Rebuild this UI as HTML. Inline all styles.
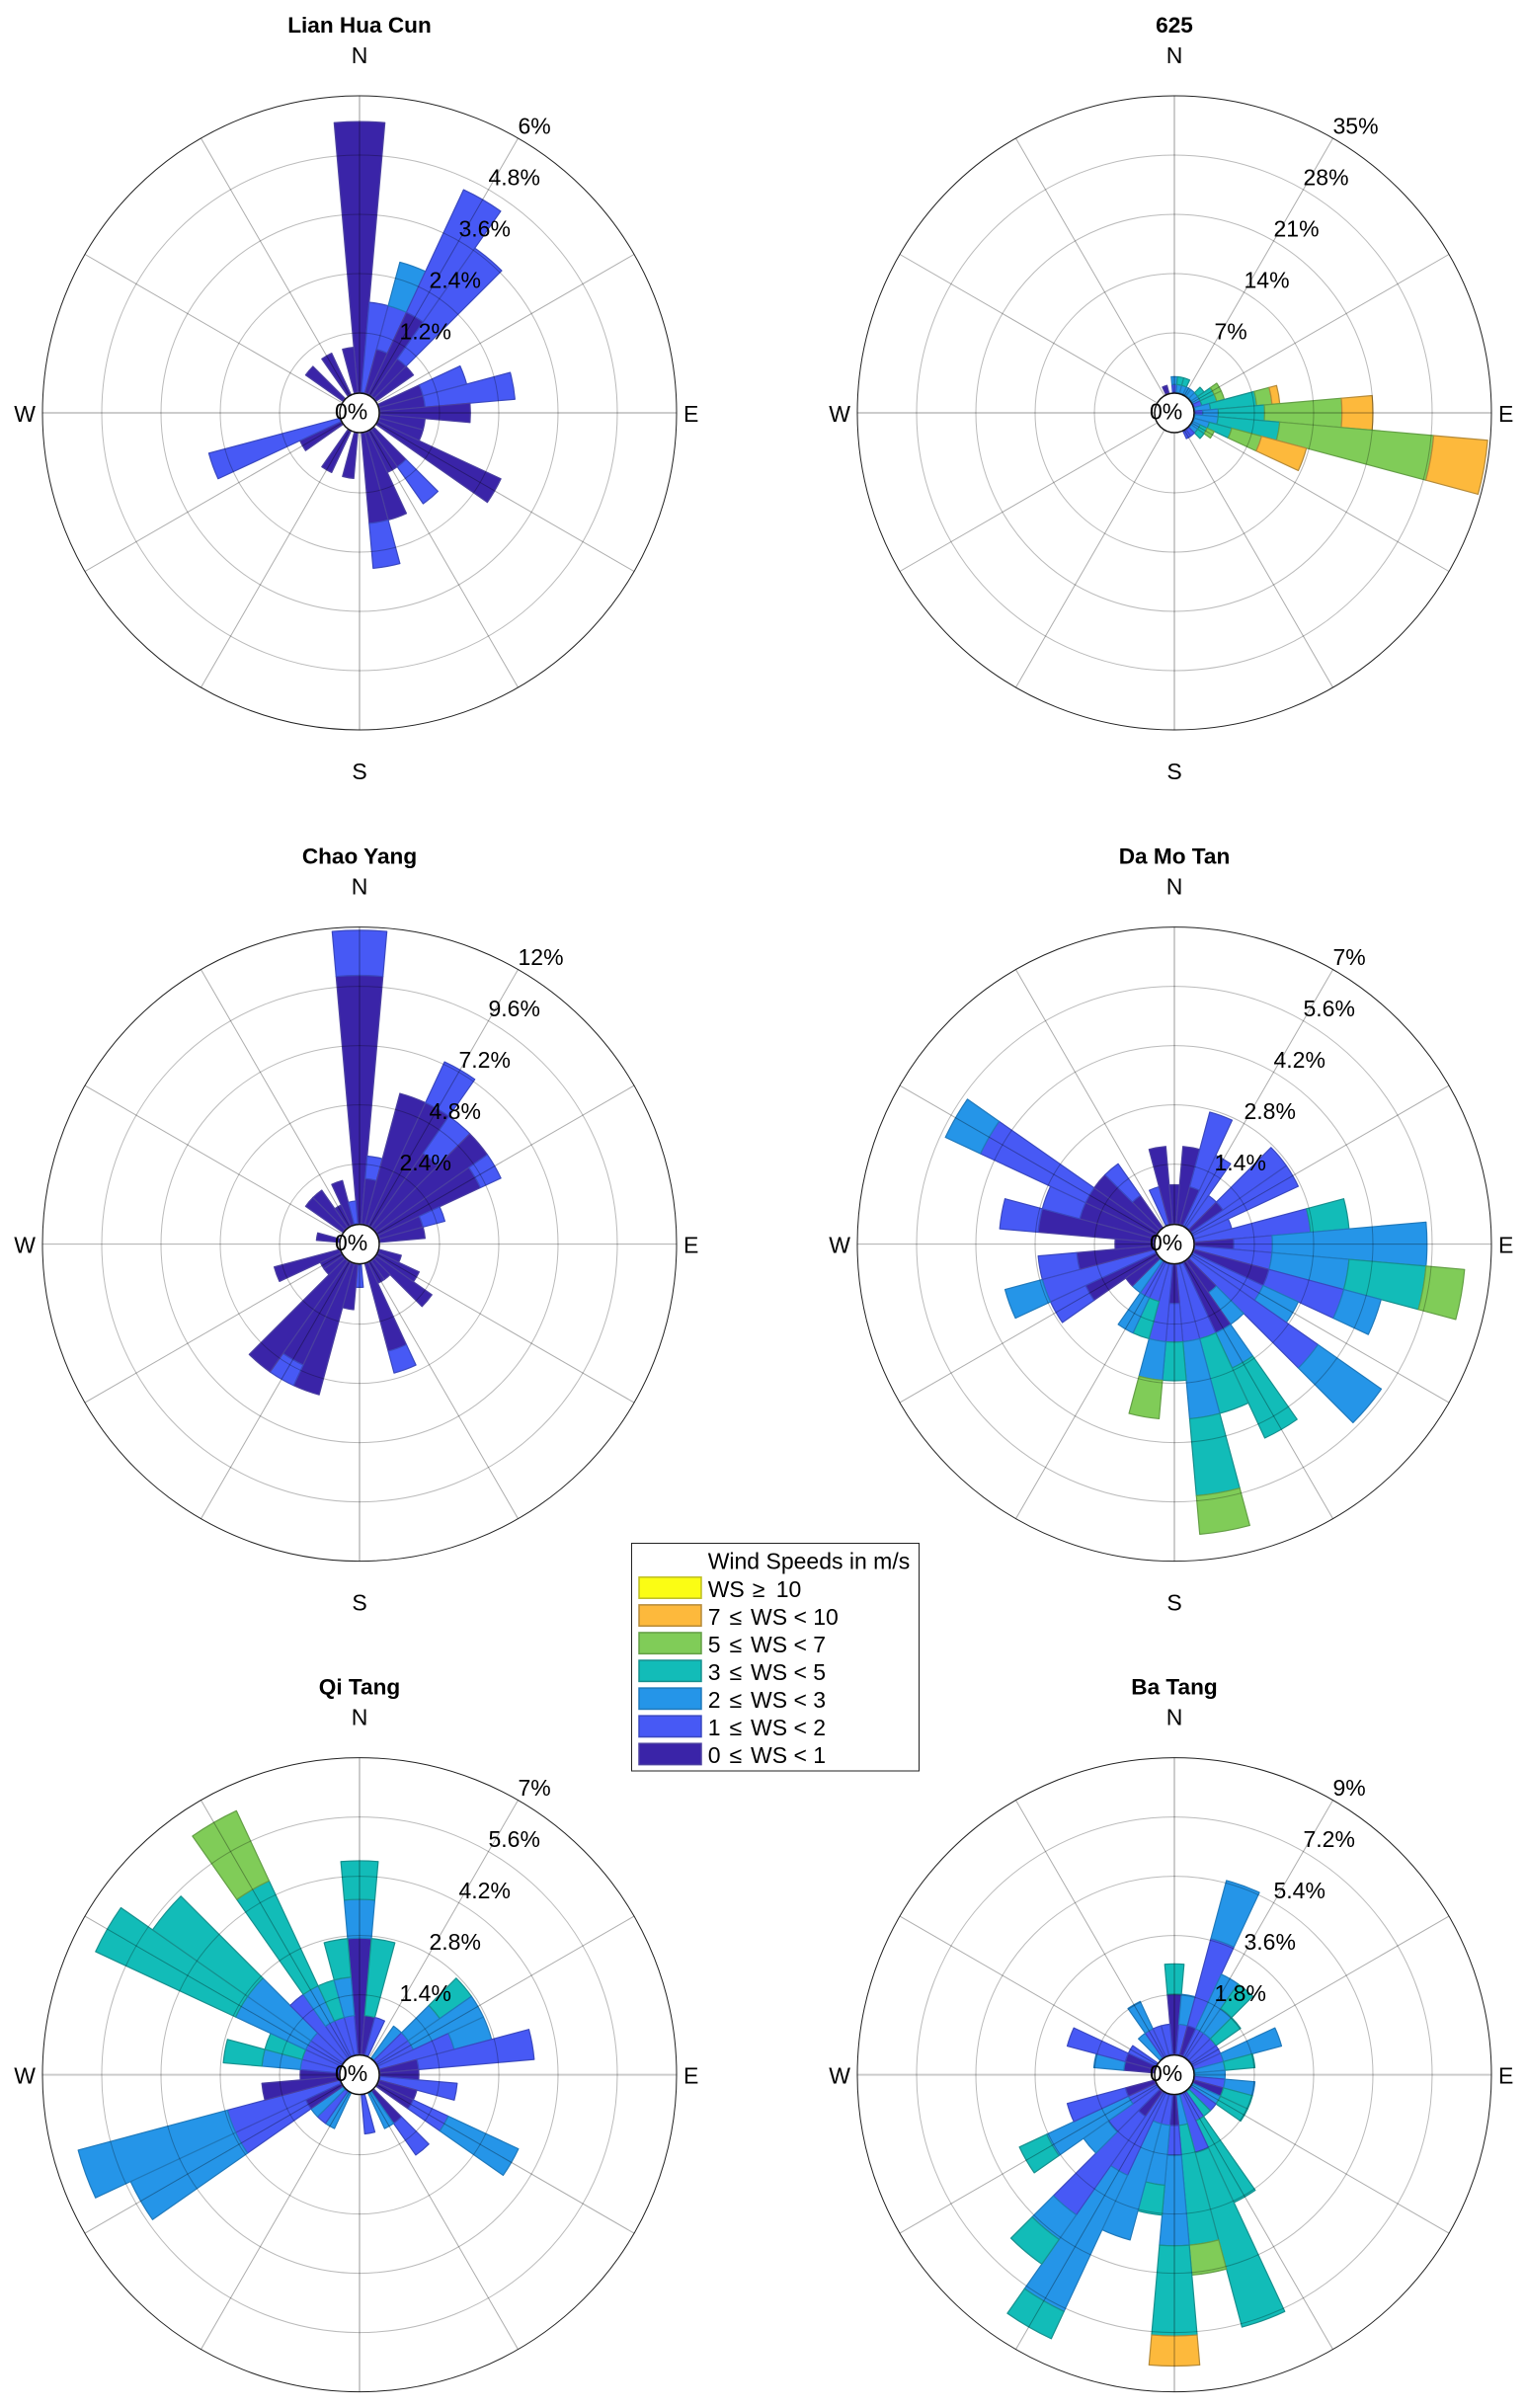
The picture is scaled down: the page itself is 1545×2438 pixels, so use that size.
<!DOCTYPE html>
<html lang="en">
<head>
<meta charset="utf-8">
<title>Wind roses</title>
<style>
html,body{margin:0;padding:0;background:#fff;}
svg{display:block;font-family:"Liberation Sans",Arial,sans-serif;}
</style>
</head>
<body>
<svg id="chart" xmlns="http://www.w3.org/2000/svg" width="1545" height="2438" viewBox="0 0 1545 2438">
  <g id="panels"></g>
  <g id="legend">
    <rect x="639.5" y="1562.5" width="291" height="230.5" fill="#fff" stroke="#222" stroke-width="1"/>
    <text x="716.7" y="1588.5" font-size="23" fill="#000">Wind Speeds in m/s</text>
  </g>
</svg>
<script>
// Direction bins (degrees clockwise from north)
const directionBins = [0,10,20,30,40,50,60,70,80,90,100,110,120,130,140,150,160,170,180,190,200,210,220,230,240,250,260,270,280,290,300,310,320,330,340,350];
const sectorWidth = 10;
// Percent of records represented by one record
const percentPerRecord = 0.913;

// Legend categories, innermost speed class first
const speedClassLabels = ['0 ≤ WS < 1','1 ≤ WS < 2','2 ≤ WS < 3','3 ≤ WS < 5','5 ≤ WS < 7','7 ≤ WS < 10','WS ≥ 10'];
const speedFills = ['#3a24a8','#4759f5','#2595e8','#12bcb8','#80cc58','#fdb93c','#fbfd14'];
const speedEdges = ['#4a3fa0','#3a48c0','#1f79bb','#16908e','#639f45','#b58a38','#bdbd22'];

// Lian Hua Cun: records per direction bin
const lianHuaCunWs0 = [6,0,1,2,1,1, 0,1,1,2,1,1, 3,0,1,1,2,2, 0,1,0,1,0,0, 1,0,0,0,0,0, 0,1,0,1,0,1];
const lianHuaCunWs1 = [0,2,1,3,3,0, 0,1,2,0,0,0, 0,0,1,0,0,1, 0,0,0,0,0,0, 0,3,0,0,0,0, 0,0,0,0,0,0];
const lianHuaCunWs2 = [0,0,1,0,0,0, 0,0,0,0,0,0, 0,0,0,0,0,0, 0,0,0,0,0,0, 0,0,0,0,0,0, 0,0,0,0,0,0];
const lianHuaCunTicks = [1.2,2.4,3.6,4.8,6];

// 625
const site625Ws0 = [0,0,0,0,0,0, 0,0,0,0,0,0, 0,0,0,0,0,0, 0,0,0,0,0,0, 0,0,0,0,0,0, 0,0,0,0,1,0];
const site625Ws1 = [1,0,0,0,0,0, 0,1,0,1,0,0, 0,0,1,1,0,0, 0,0,0,0,0,0, 0,0,0,0,0,0, 0,0,0,0,0,0];
const site625Ws2 = [1,1,1,1,1,1, 1,0,2,2,3,2, 1,1,0,0,0,0, 0,0,0,0,0,0, 0,0,0,0,0,0, 0,0,0,0,0,0];
const site625Ws3 = [0,1,1,0,0,1, 2,2,6,6,8,3, 1,1,0,0,0,0, 0,0,0,0,0,0, 0,0,0,0,0,0, 0,0,0,0,0,0];
const site625Ws5 = [0,0,0,0,0,0, 1,1,2,10,20,4, 1,0,0,0,0,0, 0,0,0,0,0,0, 0,0,0,0,0,0, 0,0,0,0,0,0];
const site625Ws7 = [0,0,0,0,0,0, 0,0,1,4,7,6, 0,0,0,0,0,0, 0,0,0,0,0,0, 0,0,0,0,0,0, 0,0,0,0,0,0];
const site625Ticks = [7,14,21,28,35];

// Chao Yang
const chaoYangWs0 = [11,2,6,6,4,6, 5,2,2,0,0,1, 2,3,1,1,4,0, 0,2,6,5,6,1, 1,3,0,0,1,0, 0,2,2,1,2,0];
const chaoYangWs1 = [2,1,0,2,2,0, 1,1,0,0,0,0, 0,0,0,0,1,0, 1,0,0,1,0,0, 0,0,0,0,0,0, 0,0,0,0,0,1];
const chaoYangTicks = [2.4,4.8,7.2,9.6,12];

// Da Mo Tan
const daMoTanWs0 = [1,2,1,0,0,1, 0,0,0,1,0,2, 0,0,1,2,0,0, 1,0,0,0,0,1, 2,0,2,1,3,2, 2,2,1,0,0,2];
const daMoTanWs1 = [0,0,2,2,1,2, 3,1,3,1,2,2, 2,4,0,0,2,2, 1,2,1,1,0,0, 1,3,1,0,1,1, 3,0,1,0,1,0];
const daMoTanWs2 = [0,0,0,0,0,0, 0,0,0,4,2,1, 1,2,1,1,0,2, 0,1,0,1,1,0, 0,1,0,0,0,0, 1,0,0,0,0,0];
const daMoTanWs3 = [0,0,0,0,0,0, 0,0,1,0,2,0, 0,0,0,2,2,2, 1,0,1,0,0,0, 0,0,0,0,0,0, 0,0,0,0,0,0];
const daMoTanWs5 = [0,0,0,0,0,0, 0,0,0,0,1,0, 0,0,0,0,0,1, 0,1,0,0,0,0, 0,0,0,0,0,0, 0,0,0,0,0,0];
const daMoTanTicks = [1.4,2.8,4.2,5.6,7];

// Qi Tang
const qiTangWs0 = [3,1,0,0,0,0, 0,0,1,1,0,1, 1,0,1,0,0,0, 0,0,0,0,0,0, 1,0,2,1,0,0, 0,0,0,0,0,0];
const qiTangWs1 = [0,0,1,0,0,1, 1,2,3,0,2,0, 1,0,1,0,0,1, 0,0,0,0,1,0, 2,3,0,0,1,1, 1,1,2,1,1,1];
const qiTangWs2 = [1,0,0,0,1,1, 2,1,0,0,0,0, 2,0,0,1,0,0, 0,0,0,1,0,1, 3,4,0,0,1,0, 2,2,0,1,0,1];
const qiTangWs3 = [1,2,0,0,0,1, 0,0,0,0,0,0, 0,0,0,0,0,0, 0,0,0,0,0,0, 0,0,0,0,1,1, 4,3,0,3,1,1];
const qiTangWs5 = [0,0,0,0,0,0, 0,0,0,0,0,0, 0,0,0,0,0,0, 0,0,0,0,0,0, 0,0,0,0,0,0, 0,0,0,2,0,0];
const qiTangTicks = [1.4,2.8,4.2,5.6,7];

// Ba Tang
const baTangWs0 = [2,0,1,0,0,0, 0,0,0,0,0,1, 0,0,0,0,0,0, 1,0,0,0,1,0, 0,1,0,0,1,1, 0,0,0,0,0,0];
const baTangWs1 = [0,1,3,1,1,1, 1,1,0,0,1,0, 0,1,0,1,2,0, 1,1,1,3,4,2, 1,2,0,0,0,2, 1,0,0,1,1,1];
const baTangWs2 = [0,1,2,2,1,0, 0,2,1,1,1,0, 1,0,0,0,0,1, 3,2,4,5,1,1, 3,0,0,0,1,0, 0,0,1,1,0,0];
const baTangWs3 = [1,0,0,0,1,1, 0,0,1,0,0,1, 1,0,1,3,6,4, 3,1,0,1,1,0, 1,0,0,0,0,0, 0,0,0,0,0,0];
const baTangWs5 = [0,0,0,0,0,0, 0,0,0,0,0,0, 0,0,0,0,0,1, 0,0,0,0,0,0, 0,0,0,0,0,0, 0,0,0,0,0,0];
const baTangWs7 = [0,0,0,0,0,0, 0,0,0,0,0,0, 0,0,0,0,0,0, 1,0,0,0,0,0, 0,0,0,0,0,0, 0,0,0,0,0,0];
const baTangTicks = [1.8,3.6,5.4,7.2,9];

const compassLabels = ['N','E','S','W'];

const panelLayout = [
  {title:'Lian Hua Cun', slug:'lian-hua-cun', cx:364,  cy:418,    ticks:lianHuaCunTicks, series:[lianHuaCunWs0,lianHuaCunWs1,lianHuaCunWs2], thickH:true},
  {title:'625',          slug:'625',          cx:1189, cy:418,    ticks:site625Ticks,    series:[site625Ws0,site625Ws1,site625Ws2,site625Ws3,site625Ws5,site625Ws7], thickH:true},
  {title:'Chao Yang',    slug:'chao-yang',    cx:364,  cy:1259.6, ticks:chaoYangTicks,   series:[chaoYangWs0,chaoYangWs1], thickH:false},
  {title:'Da Mo Tan',    slug:'da-mo-tan',    cx:1189, cy:1259.6, ticks:daMoTanTicks,    series:[daMoTanWs0,daMoTanWs1,daMoTanWs2,daMoTanWs3,daMoTanWs5], thickH:false},
  {title:'Qi Tang',      slug:'qi-tang',      cx:364,  cy:2100.6, ticks:qiTangTicks,     series:[qiTangWs0,qiTangWs1,qiTangWs2,qiTangWs3,qiTangWs5], thickH:true},
  {title:'Ba Tang',      slug:'ba-tang',      cx:1189, cy:2100.6, ticks:baTangTicks,     series:[baTangWs0,baTangWs1,baTangWs2,baTangWs3,baTangWs5,baTangWs7], thickH:true}
];

const NS = 'http://www.w3.org/2000/svg';
const INNER_R = 21, AXIS_SPAN = 300;

function make(tag, attrs, parent) {
  const el = document.createElementNS(NS, tag);
  for (const k in attrs) el.setAttribute(k, attrs[k]);
  parent.appendChild(el);
  return el;
}
// Axis functions
function radiusOf(percent, axisMax) { return INNER_R + percent / axisMax * AXIS_SPAN; }
function polar(cx, cy, r, deg) {
  const a = deg * Math.PI / 180;
  return [cx + r * Math.sin(a), cy - r * Math.cos(a)];
}
function sectorPath(cx, cy, r0, r1, d0, d1) {
  const p1 = polar(cx, cy, r0, d0), p2 = polar(cx, cy, r1, d0), p3 = polar(cx, cy, r1, d1), p4 = polar(cx, cy, r0, d1);
  return 'M' + p1[0].toFixed(2) + ' ' + p1[1].toFixed(2) +
    'L' + p2[0].toFixed(2) + ' ' + p2[1].toFixed(2) +
    'A' + r1.toFixed(2) + ' ' + r1.toFixed(2) + ' 0 0 1 ' + p3[0].toFixed(2) + ' ' + p3[1].toFixed(2) +
    'L' + p4[0].toFixed(2) + ' ' + p4[1].toFixed(2) +
    'A' + r0.toFixed(2) + ' ' + r0.toFixed(2) + ' 0 0 0 ' + p1[0].toFixed(2) + ' ' + p1[1].toFixed(2) + 'Z';
}

function drawPanel(panel) {
  const root = document.getElementById('panels');
  const g = make('g', {}, root);
  
  
  const cx = panel.cx, cy = panel.cy;
  const axisMax = panel.ticks[panel.ticks.length - 1];

  // stacked sectors
  directionBins.forEach(function (dir, b) {
    let cum = 0;
    panel.series.forEach(function (arr, s) {
      const v = arr[b] * percentPerRecord;
      if (v <= 0) return;
      const r0 = radiusOf(cum, axisMax), r1 = radiusOf(cum + v, axisMax);
      const sector = make('path', {
        d: sectorPath(cx, cy, r0, r1, dir - sectorWidth / 2, dir + sectorWidth / 2),
        fill: speedFills[s], stroke: speedEdges[s], 'stroke-width': 1.2, 'stroke-linejoin': 'round'
      }, g);
      
      
      cum += v;
    });
  });

  // rings
  panel.ticks.forEach(function (t, i) {
    const last = i === panel.ticks.length - 1;
    const ring = make('circle', {
      cx: cx, cy: cy, r: radiusOf(t, axisMax), fill: 'none',
      stroke: last ? '#222' : 'rgba(0,0,0,0.27)', 'stroke-width': 1
    }, g);
    
    
  });

  // spokes
  for (let deg = 0; deg < 360; deg += 30) {
    const a = polar(cx, cy, INNER_R, deg), z = polar(cx, cy, radiusOf(axisMax, axisMax), deg);
    const isV = deg === 0 || deg === 180, isH = deg === 90 || deg === 270;
    const thick = isV || (isH && panel.thickH);
    const spoke = make('line', {
      x1: a[0], y1: a[1], x2: z[0], y2: z[1],
      stroke: thick ? 'rgba(0,0,0,0.2)' : 'rgba(0,0,0,0.32)', 'stroke-width': thick ? 2 : 1
    }, g);
    
    
  }

  // centre hole
  const hole = make('circle', {cx: cx, cy: cy, r: 20, fill: '#fff', stroke: '#111', 'stroke-width': 1.5}, g);
  
  

  // title
  const title = make('text', {x: cx, y: cy - 385, 'text-anchor': 'middle', 'font-size': 22.6, 'font-weight': 'bold', fill: '#000'}, g);
  title.textContent = panel.title;
  
  

  // compass labels
  const compassSpec = [[0, -354, 'middle'], [328, 9, 'start'], [0, 371, 'middle'], [-328, 9, 'end']];
  compassLabels.forEach(function (lab, i) {
    const t = make('text', {x: cx + compassSpec[i][0], y: cy + compassSpec[i][1], 'text-anchor': compassSpec[i][2], 'font-size': 23, fill: '#000'}, g);
    t.textContent = lab;
    
    
  });

  // radial tick labels
  panel.ticks.forEach(function (tick) {
    const p = polar(cx, cy, radiusOf(tick, axisMax), 30);
    const t = make('text', {x: p[0], y: p[1] - 4.5, 'font-size': 23, fill: '#000'}, g);
    t.textContent = tick + '%';
    
    
  });
  const zero = make('text', {x: cx - 25, y: cy + 6.6, 'font-size': 23, fill: '#000'}, g);
  zero.textContent = '0%';
  
  
}

function drawLegend() {
  const g = document.getElementById('legend');
  for (let i = 0; i < speedClassLabels.length; i++) {
    const rowFromTop = speedClassLabels.length - 1 - i;
    const top = 1596.8 + rowFromTop * 28.07;
    const sw = make('rect', {x: 647, y: top, width: 63, height: 21.4, fill: speedFills[i], stroke: speedEdges[i], 'stroke-width': 1.5}, g);
    
    
    const label = make('text', {y: top + 20, 'font-size': 23, fill: '#000'}, g);
    
    
    const parts = speedClassLabels[i].split(' ');
    const isTop = parts[0] === 'WS';
    const head = make('tspan', {x: 716.7}, label);
    head.textContent = parts[0];
    const sym = make('tspan', {x: isTop ? 761.7 : 738.5}, label);
    sym.textContent = parts[1];
    const tail = make('tspan', {x: isTop ? 785.7 : 760}, label);
    tail.textContent = parts.slice(2).join(' ');
  }
}

panelLayout.forEach(drawPanel);
drawLegend();
</script>
</body>
</html>
